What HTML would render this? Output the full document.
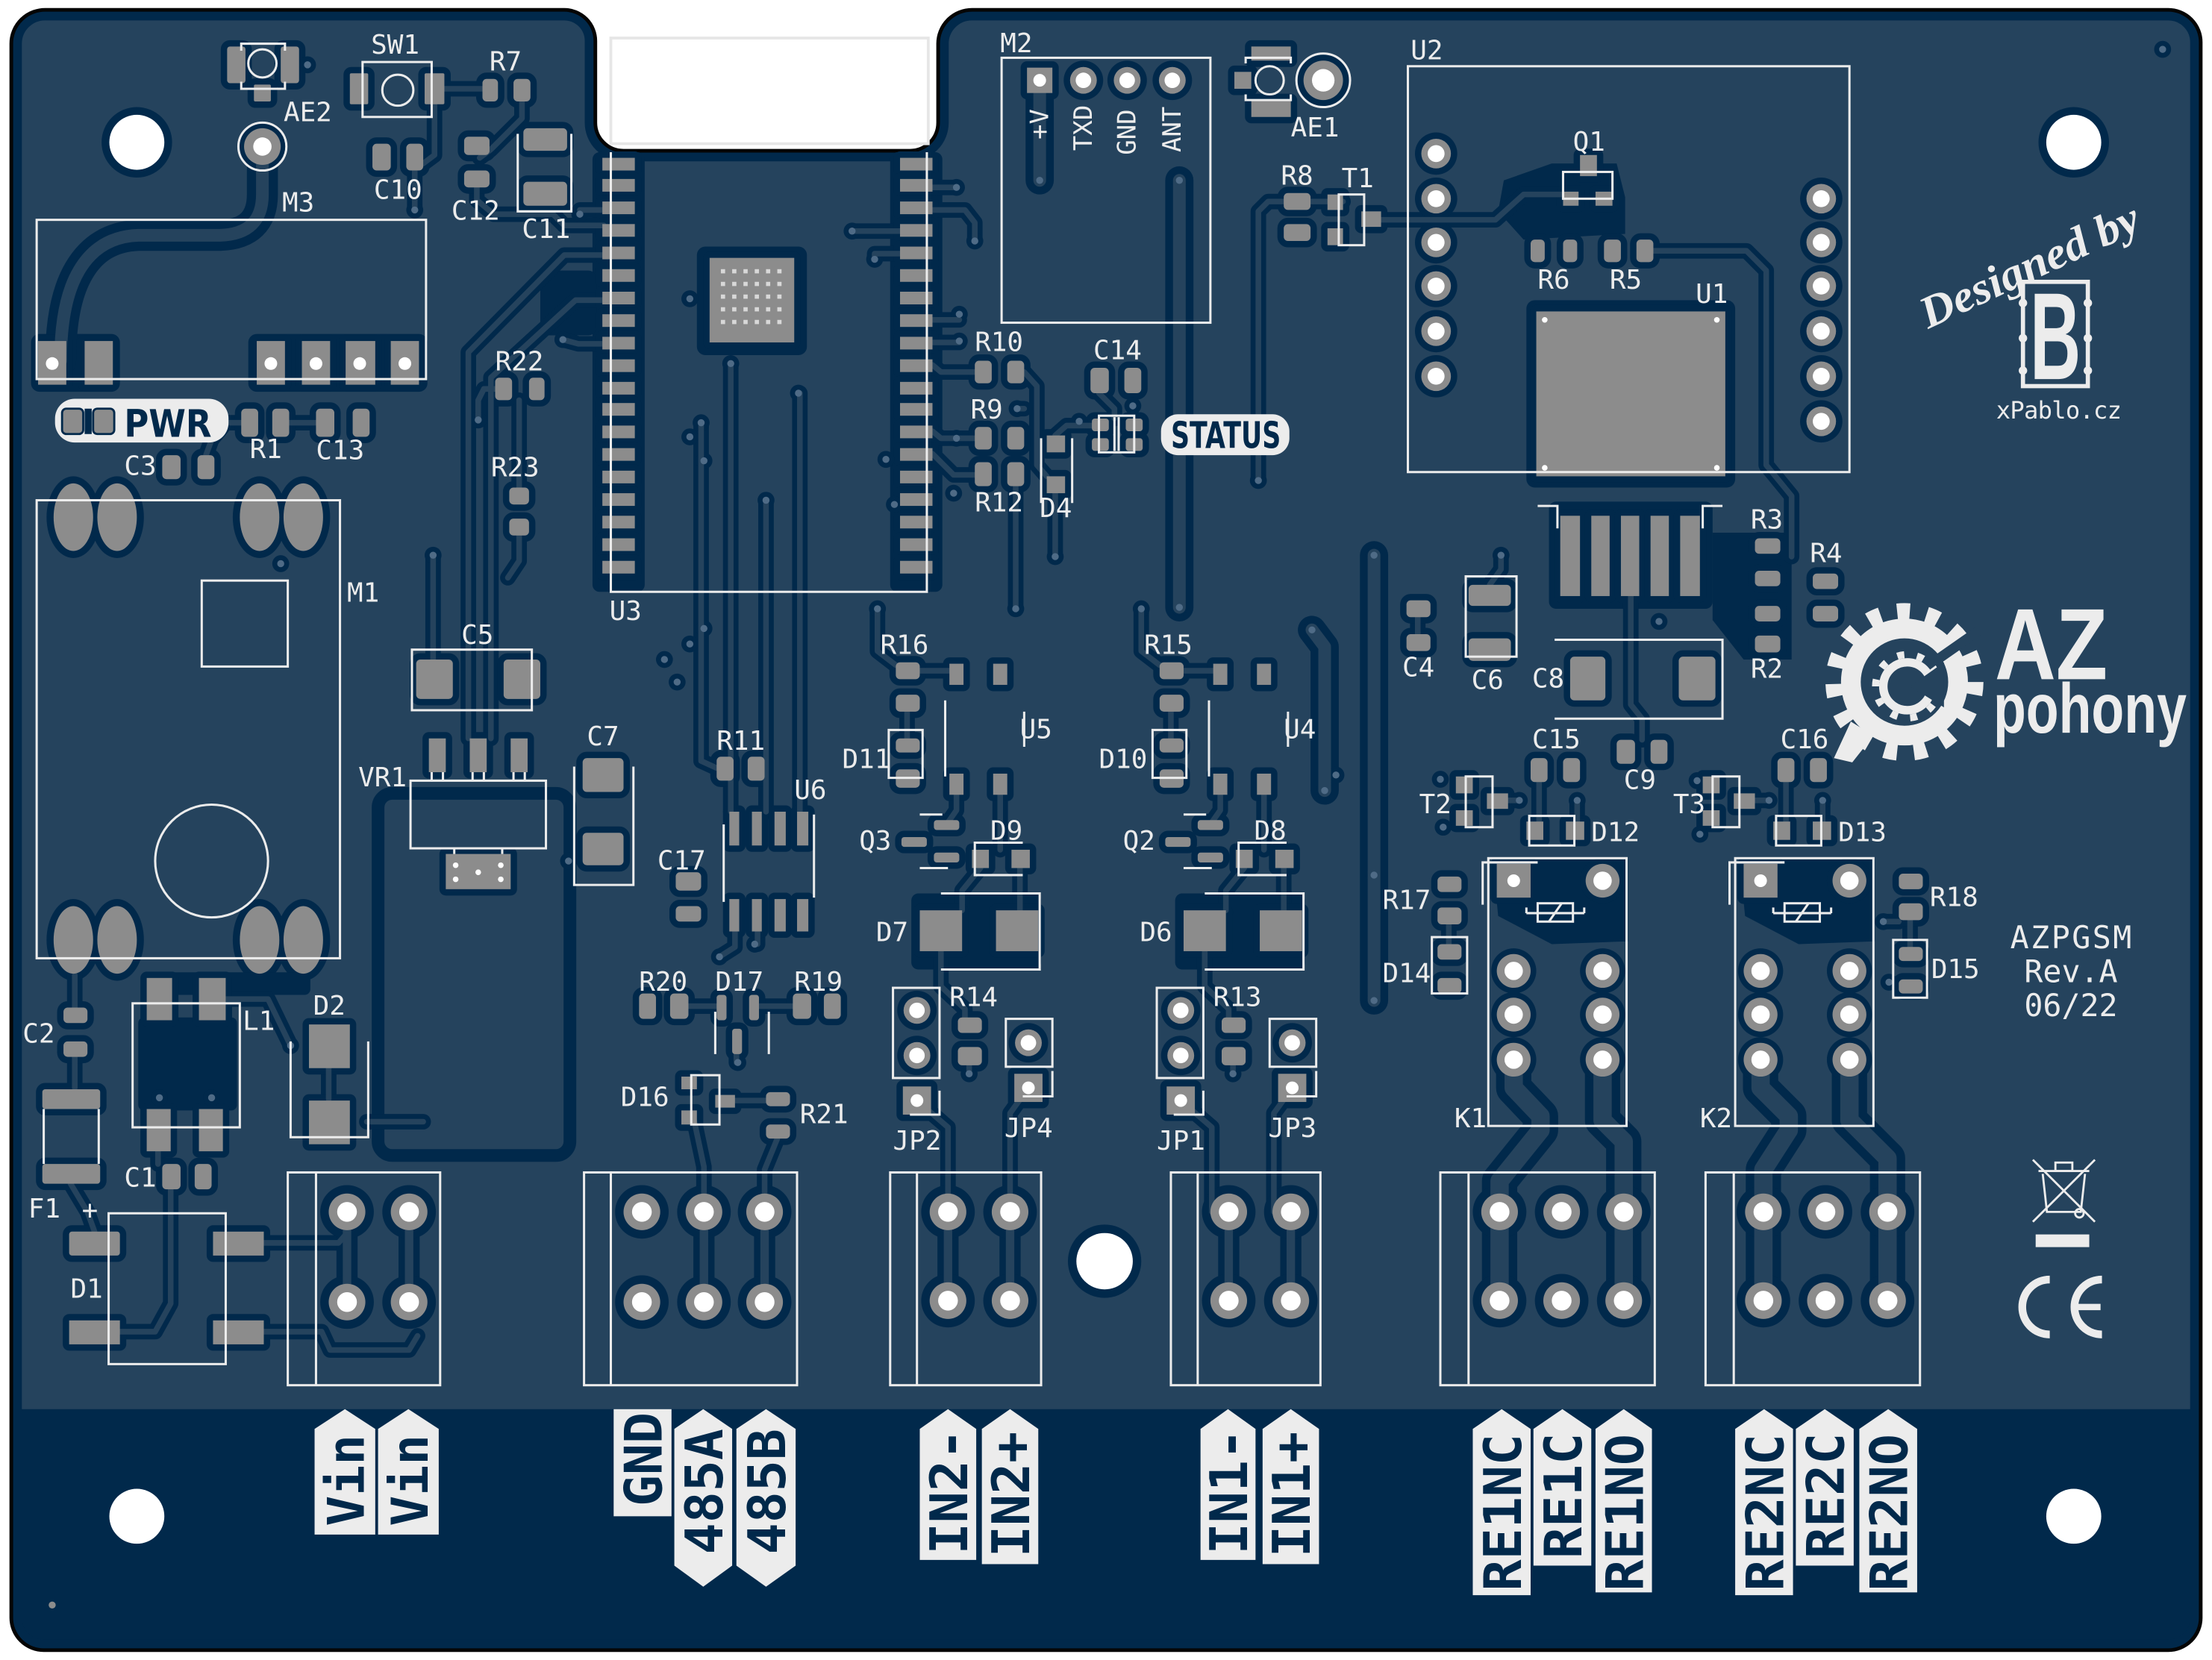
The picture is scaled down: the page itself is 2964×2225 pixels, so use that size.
<!DOCTYPE html>
<html><head><meta charset="utf-8">
<style>
html,body{margin:0;padding:0;background:#fff;width:2964px;height:2225px;overflow:hidden}
svg{display:block}
.sk{fill:none;stroke:#ececec;stroke-width:1.6}
.t{fill:#ececec;font-family:"DejaVu Sans Mono","Liberation Mono",monospace;font-size:19px}
.m{fill:#ececec;font-family:"DejaVu Sans Mono","Liberation Mono",monospace;font-size:18px}
.bl{fill:#01294b;font-family:"DejaVu Sans Mono","Liberation Mono",monospace;font-weight:bold;font-size:37px}
.lb{fill:#ececec}
</style></head><body>
<svg width="2964" height="2225" viewBox="0 0 1568 1178" preserveAspectRatio="none" xmlns="http://www.w3.org/2000/svg">
<defs>
<clipPath id="bc"><path d="M33,7 H400 A22,22 0 0 1 422,29 V87 A20,20 0 0 0 442,107 H645 A20,20 0 0 0 665,87 V31 A24,24 0 0 1 689,7 H1537 A23,23 0 0 1 1560,30 V1148 A23,23 0 0 1 1537,1171 H31 A23,23 0 0 1 8,1148 V31 A24,24 0 0 1 33,7 Z"/></clipPath>

<g id="thin">
<path d="M310,63 H342"/>
<path d="M308,74 V110 L300,116"/>
<path d="M294,121 V149"/>
<path d="M370,72 V84 L348,106 L340,112"/>
<path d="M338,133 V142 L350,152 H392 L400,160 H428"/>
<path d="M428,181 H400 L332,250 V524"/>
<path d="M428,213 H408 L348,268 V524"/>
<path d="M307,394 V470 L312,478"/>
<path d="M428,244 H410 L399,241"/>
<path d="M428,149 H411"/>
<path d="M351,276 H343 L339,284 V298"/>
<path d="M368,284 V346"/>
<path d="M368,380 V398 L360,410"/>
<path d="M205,300 H224"/>
<path d="M171,300 H160 L150,312 L146,323"/>
<path d="M518,258 V576"/>
<path d="M543,355 V576"/>
<path d="M567,279 V576"/>
<path d="M497,300 V540 L508,545"/>
<path d="M661,133 H678"/>
<path d="M661,149 H684 L691,158 V171"/>
<path d="M638,164 H604"/>
<path d="M638,180 H620 V184"/>
<path d="M661,227 H680"/>
<path d="M661,243 H680"/>
<path d="M661,259 L667,264 H691"/>
<path d="M661,306 L667,311 H691"/>
<path d="M661,322 L676,337 H691"/>
<path d="M726,264 L735,274 V330 L742,338"/>
<path d="M748,309 L756,302 H774"/>
<path d="M748,350 V395"/>
<path d="M720,337 V432"/>
<path d="M721,290 H726"/>
<path d="M779,279 L790,290 V297"/>
<path d="M910,143 H899 L892,150 V341"/>
<path d="M952,143 H929"/>
<path d="M979,156 H1060 L1080,138 H1108"/>
<path d="M1172,178 H1238 L1252,192 V330 L1270,352 V395"/>
<path d="M1156,423 V500 L1164,510 V525"/>
<path d="M1064,394 V404 L1056,415"/>
<path d="M1005,438 V450"/>
<path d="M1077,568 H1069"/>
<path d="M1091,555 V583"/>
<path d="M1118,568 V583"/>
<path d="M1266,555 V583"/>
<path d="M1292,568 V583"/>
<path d="M1027,656 V670"/>
<path d="M1354,653 V672"/>
<path d="M1335,654 H1346"/>
<path d="M1254,568 H1244"/>
<g id="in2t">
<path d="M622,432 V462 L635,472"/>
<path d="M652,476 H673"/>
<path d="M643,505 V524"/>
<path d="M678,564 V575 L671,585"/>
<path d="M709,564 V603"/>
<path d="M695,616 L682,632 V646"/>
<path d="M723,616 V646"/>
<path d="M667,675 V700 L684,716 V722"/>
<path d="M687,756 V762"/>
<path d="M650,781 L672,800 V860"/>
<path d="M729,772 L716,790 V860"/>
</g>
<use href="#in2t" x="187"/>
<path d="M492,795 L499,828 V860"/>
<path d="M551,808 L542,830 V860"/>
<path d="M521,661 V672 L510,679"/>
<path d="M537,661 V670"/>
<path d="M488,714 H508"/>
<path d="M538,714 H562"/>
<path d="M522,748 V754"/>
<path d="M521,781 H543"/>
<path d="M50,840 L62,860 L67,874"/>
<path d="M121,844 V925 L110,945 H85"/>
<path d="M187,882 H240 L246,875"/>
<path d="M187,945 H228 L234,958 H290 L296,948"/>
<path d="M53,715 V692"/>
<path d="M53,749 V772"/>
<path d="M160,709 H190 L206,742"/>
<path d="M233,758 V780"/>
<path d="M112,817 V826"/>
<path d="M260,796 H300"/>
</g>
<g id="med">
<path d="M246,860 V924"/><path d="M290,860 V924"/>
<path d="M499,860 V923"/><path d="M542,860 V923"/>
<path d="M672,860 V923"/><path d="M716,860 V923"/>
<path d="M871,860 V923"/><path d="M915,860 V923"/>
</g>
<g id="wide">
<path d="M737,57 V128"/>
<path d="M836,128 V431"/>
<path d="M974,394 V710"/>
<path d="M930,447 L939,459 V561"/>
</g>
<g id="rf">
<path d="M186,104 V138 Q186,166 156,167 H98 Q70,168 56,192 Q43,214 43,256"/>
</g>
<g id="rel">
<path d="M1136,752 V795 L1151,810 V923"/>
<path d="M1073,752 V772 L1092,792 V802 L1063,838 V923"/>
<path d="M1311,752 V795 L1338,822 V923"/>
<path d="M1248,752 V772 L1268,792 V802 L1250,830 V923"/>
</g>

<g id="pads">
<rect x="161" y="33" width="13" height="26" rx="2"/><rect x="199" y="33" width="13" height="26" rx="2"/><rect x="180" y="60" width="12" height="12" rx="1"/>
<rect x="248" y="52" width="13" height="22" rx="1"/><rect x="301" y="52" width="14" height="22" rx="1"/>
<rect x="342" y="56" width="11" height="16" rx="3"/><rect x="364" y="56" width="12" height="16" rx="3"/>
<rect x="264" y="102" width="13" height="19" rx="3"/><rect x="288" y="102" width="12" height="19" rx="3"/>
<rect x="329" y="97" width="18" height="13" rx="3"/><rect x="329" y="121" width="18" height="12" rx="3"/>
<rect x="371" y="91" width="31" height="16" rx="3"/><rect x="371" y="129" width="31" height="17" rx="3"/>
<rect x="171" y="290" width="12" height="20" rx="3"/><rect x="193" y="290" width="12" height="20" rx="3"/>
<rect x="224" y="290" width="13" height="20" rx="3"/><rect x="250" y="290" width="12" height="20" rx="3"/>
<rect x="115" y="323" width="13" height="17" rx="3"/><rect x="140" y="323" width="12" height="17" rx="3"/>
<rect x="351" y="268" width="12" height="16" rx="3"/><rect x="375" y="268" width="11" height="16" rx="3"/>
<rect x="361" y="346" width="14" height="12" rx="3"/><rect x="361" y="368" width="14" height="12" rx="3"/>
<rect x="295" y="468" width="26" height="28" rx="3"/><rect x="357" y="468" width="26" height="28" rx="3"/>
<rect x="304" y="524" width="12" height="24"/><rect x="333" y="524" width="12" height="24"/><rect x="362" y="524" width="12" height="24"/><rect x="316" y="606" width="46" height="25"/>
<rect x="413" y="538" width="29" height="24" rx="3"/><rect x="413" y="591" width="29" height="23" rx="3"/>
<rect x="104" y="694" width="18" height="30"/><rect x="141" y="694" width="19" height="30"/><rect x="104" y="787" width="17" height="30"/><rect x="141" y="787" width="17" height="30"/>
<rect x="45" y="715" width="17" height="11" rx="3"/><rect x="45" y="739" width="17" height="11" rx="3"/>
<rect x="219" y="727" width="29" height="31"/><rect x="219" y="781" width="29" height="31"/>
<rect x="30" y="773" width="41" height="14" rx="2"/><rect x="30" y="826" width="41" height="14" rx="2"/>
<rect x="115" y="826" width="13" height="18" rx="3"/><rect x="138" y="826" width="12" height="18" rx="3"/>
<rect x="49" y="874" width="36" height="17" rx="2"/><rect x="151" y="874" width="36" height="17"/><rect x="49" y="937" width="36" height="17"/><rect x="151" y="937" width="36" height="17"/>
<rect x="27" y="242" width="20" height="31"/><rect x="60" y="242" width="20" height="31"/><rect x="182" y="242" width="20" height="31"/><rect x="214" y="242" width="20" height="31"/><rect x="245" y="242" width="21" height="31"/><rect x="277" y="242" width="20" height="31"/>
<g id="u3l">
<rect x="427" y="112" width="23" height="9"/><rect x="427" y="127" width="23" height="9"/><rect x="427" y="143" width="23" height="9"/><rect x="427" y="159" width="23" height="9"/><rect x="427" y="175" width="23" height="9"/><rect x="427" y="191" width="23" height="9"/><rect x="427" y="207" width="23" height="9"/><rect x="427" y="223" width="23" height="9"/><rect x="427" y="239" width="23" height="9"/><rect x="427" y="255" width="23" height="9"/><rect x="427" y="271" width="23" height="9"/><rect x="427" y="286" width="23" height="9"/><rect x="427" y="302" width="23" height="9"/><rect x="427" y="318" width="23" height="9"/><rect x="427" y="334" width="23" height="9"/><rect x="427" y="350" width="23" height="9"/><rect x="427" y="366" width="23" height="9"/><rect x="427" y="382" width="23" height="9"/><rect x="427" y="398" width="23" height="9"/>
</g>
<use href="#u3l" x="211"/>
<rect x="503" y="183" width="60" height="60"/>
<rect x="691" y="256" width="12" height="16" rx="3"/><rect x="714" y="256" width="12" height="16" rx="3"/>
<rect x="691" y="303" width="12" height="16" rx="3"/><rect x="714" y="303" width="12" height="16" rx="3"/>
<rect x="691" y="328" width="12" height="17" rx="3"/><rect x="714" y="328" width="12" height="17" rx="3"/>
<rect x="742" y="309" width="13" height="12"/><rect x="742" y="338" width="13" height="12"/>
<rect x="773" y="261" width="13" height="18" rx="3"/><rect x="797" y="261" width="12" height="18" rx="3"/>
<rect x="774" y="297" width="12" height="9" rx="2"/><rect x="774" y="311" width="12" height="9" rx="2"/><rect x="798" y="297" width="12" height="9" rx="2"/><rect x="798" y="311" width="12" height="9" rx="2"/>
<rect x="887" y="33" width="28" height="10"/><rect x="887" y="71" width="28" height="12"/><rect x="875" y="51" width="12" height="12"/>
<rect x="910" y="137" width="19" height="12" rx="3"/><rect x="910" y="159" width="19" height="12" rx="3"/>
<rect x="941" y="138" width="11" height="11"/><rect x="941" y="162" width="11" height="12"/><rect x="965" y="150" width="14" height="11"/>
<rect x="1120" y="110" width="12" height="15"/><rect x="1108" y="136" width="11" height="10"/><rect x="1131" y="136" width="12" height="10"/>
<rect x="1085" y="170" width="10" height="16" rx="3"/><rect x="1108" y="170" width="10" height="16" rx="3"/>
<rect x="1137" y="170" width="12" height="16" rx="3"/><rect x="1160" y="170" width="12" height="16" rx="3"/>
<rect x="1089" y="221" width="134" height="117"/>
<rect x="1106" y="366" width="14" height="57"/><rect x="1128" y="366" width="13" height="57"/><rect x="1149" y="366" width="13" height="57"/><rect x="1170" y="366" width="13" height="57"/><rect x="1191" y="366" width="14" height="57"/>
<rect x="1244" y="382" width="18" height="11" rx="3"/><rect x="1244" y="405" width="18" height="11" rx="3"/>
<rect x="1244" y="430" width="18" height="11" rx="3"/><rect x="1244" y="451" width="18" height="12" rx="3"/>
<rect x="1285" y="407" width="18" height="11" rx="3"/><rect x="1285" y="430" width="18" height="11" rx="3"/>
<rect x="997" y="426" width="17" height="12" rx="3"/><rect x="997" y="450" width="17" height="12" rx="3"/>
<rect x="1041" y="415" width="30" height="15" rx="3"/><rect x="1041" y="453" width="30" height="16" rx="3"/>
<rect x="1113" y="466" width="25" height="31" rx="3"/><rect x="1190" y="466" width="26" height="31" rx="3"/>
<rect x="1146" y="525" width="13" height="17" rx="3"/><rect x="1170" y="525" width="12" height="17" rx="3"/>
<rect x="1085" y="538" width="12" height="17" rx="3"/><rect x="1108" y="538" width="12" height="17" rx="3"/>
<rect x="1260" y="538" width="12" height="17" rx="3"/><rect x="1283" y="538" width="12" height="17" rx="3"/>
<rect x="1032" y="551" width="12" height="12"/><rect x="1032" y="575" width="12" height="11"/><rect x="1054" y="563" width="15" height="11"/>
<rect x="1207" y="551" width="12" height="12"/><rect x="1207" y="575" width="12" height="11"/><rect x="1229" y="563" width="15" height="11"/>
<rect x="1082" y="583" width="12" height="13"/><rect x="1110" y="583" width="13" height="13"/>
<rect x="1257" y="583" width="12" height="13"/><rect x="1285" y="583" width="13" height="13"/>
<rect x="1019" y="622" width="17" height="11" rx="3"/><rect x="1019" y="644" width="17" height="12" rx="3"/>
<rect x="1019" y="670" width="17" height="11" rx="3"/><rect x="1019" y="694" width="17" height="11" rx="3"/>
<rect x="1346" y="620" width="17" height="11" rx="3"/><rect x="1346" y="641" width="17" height="12" rx="3"/>
<rect x="1346" y="672" width="17" height="10" rx="3"/><rect x="1346" y="695" width="17" height="10" rx="3"/>
<g id="in2p">
<rect x="635" y="470" width="17" height="12" rx="3"/><rect x="635" y="493" width="17" height="12" rx="3"/>
<rect x="673" y="471" width="10" height="15"/><rect x="704" y="471" width="10" height="15"/><rect x="673" y="549" width="10" height="15"/><rect x="704" y="549" width="10" height="15"/>
<rect x="635" y="524" width="17" height="10" rx="3"/><rect x="635" y="546" width="17" height="13" rx="3"/>
<rect x="662" y="582" width="18" height="7" rx="2"/><rect x="662" y="605" width="18" height="7" rx="2"/><rect x="639" y="594" width="18" height="7" rx="2"/>
<rect x="689" y="603" width="12" height="13"/><rect x="717" y="603" width="13" height="13"/>
<rect x="652" y="646" width="30" height="29"/><rect x="706" y="646" width="30" height="29"/>
<rect x="679" y="722" width="17" height="11" rx="3"/><rect x="679" y="743" width="17" height="13" rx="3"/>
<rect x="640" y="771" width="20" height="20"/><rect x="719" y="762" width="20" height="20"/>
</g>
<use href="#in2p" x="187"/>
<rect x="517" y="576" width="7" height="24"/><rect x="533" y="576" width="7" height="24"/><rect x="549" y="576" width="8" height="24"/><rect x="565" y="576" width="8" height="24"/>
<rect x="517" y="638" width="7" height="23"/><rect x="533" y="638" width="7" height="23"/><rect x="549" y="638" width="8" height="23"/><rect x="565" y="638" width="8" height="23"/>
<rect x="508" y="537" width="12" height="17" rx="3"/><rect x="530" y="537" width="12" height="17" rx="3"/>
<rect x="479" y="619" width="18" height="13" rx="3"/><rect x="479" y="643" width="18" height="11" rx="3"/>
<rect x="453" y="705" width="12" height="18" rx="3"/><rect x="475" y="705" width="13" height="18" rx="3"/>
<rect x="508" y="706" width="7" height="18" rx="2"/><rect x="531" y="706" width="7" height="18" rx="2"/><rect x="519" y="730" width="7" height="18" rx="2"/>
<rect x="562" y="705" width="13" height="18" rx="3"/><rect x="584" y="705" width="12" height="18" rx="3"/>
<rect x="483" y="764" width="11" height="9"/><rect x="483" y="788" width="11" height="10"/><rect x="507" y="777" width="14" height="9"/>
<rect x="543" y="775" width="17" height="10" rx="3"/><rect x="543" y="798" width="17" height="10" rx="3"/>
<rect x="1061" y="613" width="24" height="24"/><rect x="1236" y="613" width="24" height="24"/>
<rect x="728" y="48" width="18" height="18"/>
</g>

<!-- THT position paths (zero-length round-cap dots) -->
<path id="tp" d="M246,860h0M290,860h0M246,924h0M290,924h0M455,860h0M499,860h0M542,860h0M455,924h0M499,924h0M542,924h0M672,860h0M716,860h0M672,923h0M716,923h0M871,860h0M915,860h0M871,923h0M915,923h0M1063,860h0M1107,860h0M1151,860h0M1063,923h0M1107,923h0M1151,923h0M1250,860h0M1294,860h0M1338,860h0M1250,923h0M1294,923h0M1338,923h0"/>
<path id="rp" d="M1136,625h0M1073,689h0M1136,689h0M1073,720h0M1136,720h0M1073,752h0M1136,752h0M1311,625h0M1248,689h0M1311,689h0M1248,720h0M1311,720h0M1248,752h0M1311,752h0"/>
<path id="up" d="M1018,109h0M1018,141h0M1018,172h0M1018,203h0M1018,235h0M1018,267h0M1291,141h0M1291,172h0M1291,203h0M1291,235h0M1291,267h0M1291,299h0"/>
<path id="jp" d="M650,717h0M650,749h0M729,740h0M837,717h0M837,749h0M916,740h0M768,57h0M799,57h0M831,57h0"/>
<path id="holesq" d="M650,781h0M729,772h0M837,781h0M916,772h0M1073,625h0M1248,625h0M737,57h0M37,258h0M192,258h0M224,258h0M255,258h0M287,258h0"/>
<path id="vias" d="M294,149h0M411,152h0M399,241h0M339,298h0M678,133h0M691,171h0M604,164h0M620,184h0M680,223h0M680,242h0M566,279h0M518,258h0M543,355h0M497,300h0M720,432h0M748,395h0M622,432h0M809,432h0M836,431h0M737,128h0M836,128h0M892,341h0M974,394h0M974,710h0M974,621h0M1064,394h0M930,447h0M939,561h0M947,550h0M1176,441h0M1021,553h0M1077,568h0M1118,568h0M1203,554h0M1254,568h0M1292,568h0M1205,592h0M1023,587h0M1335,654h0M1339,697h0M471,468h0M480,484h0M489,457h0M499,446h0M510,679h0M535,670h0M523,754h0M687,762h0M874,762h0M307,394h0M199,400h0M403,611h0M206,742h0M113,779h0M150,779h0M489,212h0M489,310h0M499,327h0M218,46h0M1533,35h0M721,290h0M678,311h0M628,326h0M676,350h0M634,358h0M765,299h0M803,288h0"/>
</defs>

<!-- board -->
<g clip-path="url(#bc)">
<rect x="0" y="0" width="1568" height="1178" fill="#25435d"/>
<rect x="0" y="1000" width="1568" height="178" fill="#01294b"/>
<path d="M33,7 H400 A22,22 0 0 1 422,29 V87 A20,20 0 0 0 442,107 H645 A20,20 0 0 0 665,87 V31 A24,24 0 0 1 689,7 H1537 A23,23 0 0 1 1560,30 V1148 A23,23 0 0 1 1537,1171 H31 A23,23 0 0 1 8,1148 V31 A24,24 0 0 1 33,7 Z" fill="none" stroke="#01294b" stroke-width="15"/>
</g>
<path d="M33,7 H400 A22,22 0 0 1 422,29 V87 A20,20 0 0 0 442,107 H645 A20,20 0 0 0 665,87 V31 A24,24 0 0 1 689,7 H1537 A23,23 0 0 1 1560,30 V1148 A23,23 0 0 1 1537,1171 H31 A23,23 0 0 1 8,1148 V31 A24,24 0 0 1 33,7 Z" fill="none" stroke="#050505" stroke-width="2.6"/>
<rect x="433" y="27" width="225" height="75" fill="none" stroke="#e6e6e6" stroke-width="2"/>

<!-- dark copper-free zones -->
<g fill="#01294b">
<rect x="420" y="108" width="37" height="312" rx="5"/>
<rect x="631" y="108" width="37" height="312" rx="5"/>
<rect x="494" y="175" width="78" height="77" rx="6"/>
<rect x="383" y="192" width="40" height="46" rx="6"/>
<polygon points="1062,150 1066,128 1100,116 1146,116 1152,140 1152,166 1080,170"/>
<rect x="1082" y="213" width="148" height="133" rx="6"/>
<rect x="1098" y="356" width="116" height="76" rx="5"/>
<polygon points="1214,378 1270,378 1270,468 1236,468 1214,440"/>
<polygon points="1058,610 1154,610 1154,668 1100,670 1062,650"/>
<polygon points="1233,610 1329,610 1329,668 1275,670 1237,650"/>
<rect x="646" y="634" width="92" height="54" rx="5"/>
<rect x="833" y="634" width="92" height="54" rx="5"/>
<rect x="98" y="722" width="70" height="66" rx="4"/>
<rect x="22" y="237" width="63" height="41" rx="6"/>
<rect x="176" y="237" width="127" height="41" rx="6"/>
<ellipse cx="52" cy="367" rx="19" ry="29"/><ellipse cx="83" cy="367" rx="19" ry="29"/><ellipse cx="184" cy="367" rx="19" ry="29"/><ellipse cx="215" cy="367" rx="19" ry="29"/>
<ellipse cx="52" cy="667" rx="19" ry="29"/><ellipse cx="83" cy="667" rx="19" ry="29"/><ellipse cx="184" cy="667" rx="19" ry="29"/><ellipse cx="215" cy="667" rx="19" ry="29"/>
<rect x="100" y="690" width="120" height="16" rx="4"/>
</g>
<rect x="268" y="563" width="136" height="257" rx="10" fill="none" stroke="#01294b" stroke-width="9"/>

<!-- dark trace gaps -->
<use href="#thin" fill="none" stroke="#01294b" stroke-width="11" stroke-linecap="round" stroke-linejoin="round"/>
<use href="#med" fill="none" stroke="#01294b" stroke-width="15" stroke-linecap="round" stroke-linejoin="round"/>
<use href="#wide" fill="none" stroke="#01294b" stroke-width="20" stroke-linecap="round" stroke-linejoin="round"/>
<use href="#rf" fill="none" stroke="#01294b" stroke-width="22" stroke-linecap="round" stroke-linejoin="round"/>
<use href="#rel" fill="none" stroke="#01294b" stroke-width="25" stroke-linecap="round" stroke-linejoin="round"/>
<use href="#pads" fill="#01294b" stroke="#01294b" stroke-width="9" stroke-linejoin="round"/>
<use href="#tp" fill="none" stroke="#01294b" stroke-width="38" stroke-linecap="round"/>
<use href="#rp" fill="none" stroke="#01294b" stroke-width="32" stroke-linecap="round"/>
<use href="#up" fill="none" stroke="#01294b" stroke-width="30" stroke-linecap="round"/>
<use href="#jp" fill="none" stroke="#01294b" stroke-width="28" stroke-linecap="round"/>
<use href="#vias" fill="none" stroke="#01294b" stroke-width="12" stroke-linecap="round"/>
<circle cx="186" cy="104" r="17" fill="#01294b"/>
<circle cx="938" cy="57" r="19" fill="#01294b"/>
<circle cx="97" cy="101" r="25" fill="#01294b"/>
<circle cx="1470" cy="101" r="25" fill="#01294b"/>
<circle cx="783" cy="895" r="26" fill="#01294b"/>

<!-- copper (light) trace centers -->
<use href="#thin" fill="none" stroke="#25435d" stroke-width="4" stroke-linecap="round" stroke-linejoin="round"/>
<use href="#med" fill="none" stroke="#25435d" stroke-width="6" stroke-linecap="round" stroke-linejoin="round"/>
<use href="#wide" fill="none" stroke="#25435d" stroke-width="9" stroke-linecap="round" stroke-linejoin="round"/>
<use href="#rf" fill="none" stroke="#25435d" stroke-width="9" stroke-linecap="round" stroke-linejoin="round"/>
<use href="#rel" fill="none" stroke="#25435d" stroke-width="13" stroke-linecap="round" stroke-linejoin="round"/>

<!-- pads -->
<use href="#pads" fill="#8c8c8c"/>
<g fill="#8c8c8c">
<ellipse cx="52" cy="367" rx="14" ry="24"/><ellipse cx="83" cy="367" rx="14" ry="24"/><ellipse cx="184" cy="367" rx="14" ry="24"/><ellipse cx="215" cy="367" rx="14" ry="24"/>
<ellipse cx="52" cy="667" rx="14" ry="24"/><ellipse cx="83" cy="667" rx="14" ry="24"/><ellipse cx="184" cy="667" rx="14" ry="24"/><ellipse cx="215" cy="667" rx="14" ry="24"/>
<circle cx="186" cy="104" r="13"/><circle cx="938" cy="57" r="14"/>
</g>
<use href="#tp" fill="none" stroke="#8c8c8c" stroke-width="26" stroke-linecap="round"/>
<use href="#rp" fill="none" stroke="#8c8c8c" stroke-width="24" stroke-linecap="round"/>
<use href="#up" fill="none" stroke="#8c8c8c" stroke-width="21" stroke-linecap="round"/>
<use href="#jp" fill="none" stroke="#8c8c8c" stroke-width="19" stroke-linecap="round"/>
<use href="#vias" fill="none" stroke="#4f6b86" stroke-width="5" stroke-linecap="round"/>
<!-- holes -->
<use href="#tp" fill="none" stroke="#fff" stroke-width="14" stroke-linecap="round"/>
<use href="#rp" fill="none" stroke="#fff" stroke-width="13" stroke-linecap="round"/>
<use href="#up" fill="none" stroke="#fff" stroke-width="12" stroke-linecap="round"/>
<use href="#jp" fill="none" stroke="#fff" stroke-width="11" stroke-linecap="round"/>
<use href="#holesq" fill="none" stroke="#fff" stroke-width="9" stroke-linecap="round"/>
<g fill="#fff">
<circle cx="186" cy="104" r="6.5"/><circle cx="938" cy="57" r="8"/>
<circle cx="97" cy="101" r="19.5"/><circle cx="1470" cy="101" r="19.5"/><circle cx="783" cy="895" r="20"/>
<circle cx="97" cy="1076" r="19.5"/><circle cx="1470" cy="1076" r="19.5"/>
<circle cx="1095" cy="227" r="2"/><circle cx="1217" cy="227" r="2"/><circle cx="1095" cy="332" r="2"/><circle cx="1217" cy="332" r="2"/>
<circle cx="323" cy="614" r="2"/><circle cx="355" cy="614" r="2"/><circle cx="339" cy="619" r="2"/><circle cx="323" cy="624" r="2"/><circle cx="355" cy="624" r="2"/>
</g>
<g fill="#d8d8d8">
<rect x="511" y="191" width="3" height="3"/><rect x="519" y="191" width="3" height="3"/><rect x="527" y="191" width="3" height="3"/><rect x="535" y="191" width="3" height="3"/><rect x="543" y="191" width="3" height="3"/><rect x="551" y="191" width="3" height="3"/>
<rect x="511" y="200" width="3" height="3"/><rect x="519" y="200" width="3" height="3"/><rect x="527" y="200" width="3" height="3"/><rect x="535" y="200" width="3" height="3"/><rect x="543" y="200" width="3" height="3"/><rect x="551" y="200" width="3" height="3"/>
<rect x="511" y="209" width="3" height="3"/><rect x="519" y="209" width="3" height="3"/><rect x="527" y="209" width="3" height="3"/><rect x="535" y="209" width="3" height="3"/><rect x="543" y="209" width="3" height="3"/><rect x="551" y="209" width="3" height="3"/>
<rect x="511" y="218" width="3" height="3"/><rect x="519" y="218" width="3" height="3"/><rect x="527" y="218" width="3" height="3"/><rect x="535" y="218" width="3" height="3"/><rect x="543" y="218" width="3" height="3"/><rect x="551" y="218" width="3" height="3"/>
<rect x="511" y="227" width="3" height="3"/><rect x="519" y="227" width="3" height="3"/><rect x="527" y="227" width="3" height="3"/><rect x="535" y="227" width="3" height="3"/><rect x="543" y="227" width="3" height="3"/><rect x="551" y="227" width="3" height="3"/>
</g>
<circle cx="37" cy="1139" r="2.5" fill="#8c8c8c"/>

<!-- silkscreen outlines -->
<g class="sk">
<rect x="26" y="156" width="276" height="113"/>
<path d="M171,36 V31 H202 V36 M171,58 V63 H202 V58"/><circle cx="186" cy="45" r="10"/>
<circle cx="186" cy="104" r="17"/>
<rect x="257" y="44" width="49" height="39"/><circle cx="282" cy="64" r="11"/>
<path d="M367,95 V150 H405 V95"/>
<rect x="26" y="355" width="215" height="325"/>
<rect x="143" y="412" width="61" height="61"/>
<circle cx="150" cy="611" r="40"/>
<rect x="292" y="461" width="85" height="43"/>
<rect x="291" y="554" width="96" height="48"/>
<path d="M306,548 V554 M314,548 V554 M335,548 V554 M343,548 V554 M364,548 V554 M372,548 V554 M322,602 V606 M356,602 V606"/>
<path d="M407,544 V628 H449 V544"/>
<rect x="94" y="712" width="76" height="88"/>
<path d="M206,739 V807 H261 V739"/>
<path d="M31,787 V826 M70,787 V826"/>
<rect x="77" y="861" width="83" height="107"/>
<path d="M433,108 V420 H657 V108"/>
<rect x="710" y="41" width="148" height="188"/>
<path d="M883,45 V41 H915 V45 M883,67 V71 H915 V67"/><circle cx="900" cy="57" r="10"/>
<circle cx="938" cy="57" r="19"/>
<rect x="949" y="138" width="18" height="36"/>
<rect x="998" y="47" width="313" height="288"/>
<rect x="1108" y="122" width="35" height="19"/>
<path d="M1090,359 H1104 V375 M1221,359 H1207 V375"/>
<rect x="779" y="295" width="25" height="26"/><path d="M790,296 V320 M793,296 V320"/>
<path d="M738,311 V357 M760,311 V357"/>
<rect x="1039" y="409" width="36" height="57"/>
<path d="M1102,454 H1221 V510 H1102"/>
<rect x="1039" y="551" width="19" height="36"/>
<rect x="1214" y="551" width="19" height="36"/>
<rect x="1084" y="579" width="32" height="21"/>
<rect x="1259" y="579" width="32" height="21"/>
<rect x="1015" y="665" width="25" height="40"/>
<rect x="1342" y="667" width="24" height="41"/>
<rect x="1055" y="609" width="98" height="190"/><path d="M1051,642 V612 H1090"/>
<rect x="1230" y="609" width="98" height="190"/><path d="M1226,642 V612 H1265"/>
<path d="M1082,648 V644 M1082,648 H1123 M1123,648 V644"/><rect x="1090" y="641" width="25" height="13"/><path d="M1098,654 L1107,641"/>
<path d="M1257,648 V644 M1257,648 H1298 M1298,648 V644"/><rect x="1265" y="641" width="25" height="13"/><path d="M1273,654 L1282,641"/>
<path d="M513,585 V640 M577,578 V637"/>
<path d="M507,718 V748 M545,718 V748"/>
<rect x="490" y="763" width="20" height="35"/>
<g id="in2s">
<path d="M670,497 V551 M726,505 V530"/>
<rect x="630" y="518" width="24" height="34"/>
<path d="M652,578 H668 M652,616 H672"/>
<path d="M725,598 H691 V621 H725"/>
<path d="M667,634 H737 V688 H667"/>
<rect x="633" y="701" width="33" height="64"/>
<path d="M666,774 V791 H645"/>
<rect x="713" y="723" width="33" height="34"/>
<path d="M746,760 V778 H725"/>
</g>
<use href="#in2s" x="187"/>
<rect x="204" y="832" width="108" height="151"/><path d="M224,832 V983"/>
<rect x="414" y="832" width="151" height="151"/><path d="M433,832 V983"/>
<rect x="631" y="832" width="107" height="151"/><path d="M650,832 V983"/>
<rect x="830" y="832" width="106" height="151"/><path d="M849,832 V983"/>
<rect x="1021" y="832" width="152" height="151"/><path d="M1041,832 V983"/>
<rect x="1209" y="832" width="152" height="151"/><path d="M1229,832 V983"/>
</g>

<!-- PWR label -->
<rect x="39" y="283" width="123" height="31" rx="14" fill="#ececec"/>
<rect x="44" y="290" width="15" height="18" rx="3" fill="#8c8c8c" stroke="#01294b" stroke-width="1.5"/>
<rect x="66" y="290" width="15" height="18" rx="3" fill="#8c8c8c" stroke="#01294b" stroke-width="1.5"/>
<rect x="60" y="290" width="5" height="18" fill="#01294b"/>
<text x="88" y="310" fill="#01294b" font-family="DejaVu Sans, Liberation Sans, sans-serif" font-weight="bold" font-size="27" textLength="62" lengthAdjust="spacingAndGlyphs">PWR</text>
<!-- STATUS label -->
<rect x="823" y="294" width="91" height="29" rx="12" fill="#ececec"/>
<text x="830" y="318" fill="#01294b" font-family="DejaVu Sans, Liberation Sans, sans-serif" font-weight="bold" font-size="26" textLength="78" lengthAdjust="spacingAndGlyphs">STATUS</text>

<!-- silk text -->
<g class="t">
<text x="201" y="86">AE2</text><text x="263" y="38">SW1</text><text x="347" y="50">R7</text>
<text x="265" y="141">C10</text><text x="320" y="156">C12</text><text x="370" y="169">C11</text>
<text x="200" y="150">M3</text><text x="177" y="325">R1</text><text x="224" y="326">C13</text><text x="88" y="337">C3</text>
<text x="351" y="263">R22</text><text x="348" y="338">R23</text><text x="246" y="427">M1</text><text x="327" y="457">C5</text>
<text x="254" y="558">VR1</text><text x="416" y="529">C7</text><text x="172" y="731">L1</text><text x="16" y="740">C2</text>
<text x="222" y="720">D2</text><text x="88" y="842">C1</text><text x="20" y="864">F1</text><text x="58" y="865">+</text><text x="50" y="921">D1</text>
<text x="432" y="440">U3</text><text x="709" y="37">M2</text><text x="915" y="97">AE1</text><text x="908" y="131">R8</text><text x="951" y="133">T1</text>
<text x="1000" y="42">U2</text><text x="1115" y="107">Q1</text><text x="1090" y="205">R6</text><text x="1141" y="205">R5</text><text x="1202" y="215">U1</text>
<text x="691" y="249">R10</text><text x="775" y="255">C14</text><text x="688" y="297">R9</text><text x="691" y="363">R12</text><text x="737" y="367">D4</text>
<text x="1241" y="375">R3</text><text x="1283" y="399">R4</text><text x="1241" y="481">R2</text>
<text x="994" y="480">C4</text><text x="1043" y="489">C6</text><text x="1086" y="488">C8</text>
<text x="1086" y="531">C15</text><text x="1262" y="531">C16</text><text x="1151" y="560">C9</text>
<text x="1006" y="577">T2</text><text x="1186" y="577">T3</text><text x="1128" y="597">D12</text><text x="1303" y="597">D13</text>
<text x="980" y="645">R17</text><text x="980" y="697">D14</text><text x="1368" y="643">R18</text><text x="1369" y="694">D15</text>
<text x="1031" y="800">K1</text><text x="1205" y="800">K2</text>
<text x="624" y="464">R16</text><text x="811" y="464">R15</text><text x="723" y="524">U5</text><text x="910" y="524">U4</text>
<text x="597" y="545">D11</text><text x="779" y="545">D10</text><text x="609" y="603">Q3</text><text x="796" y="603">Q2</text>
<text x="702" y="596">D9</text><text x="889" y="596">D8</text><text x="621" y="668">D7</text><text x="808" y="668">D6</text>
<text x="673" y="714">R14</text><text x="860" y="714">R13</text><text x="633" y="816">JP2</text><text x="820" y="816">JP1</text>
<text x="712" y="807">JP4</text><text x="899" y="807">JP3</text>
<text x="508" y="532">R11</text><text x="563" y="567">U6</text><text x="466" y="617">C17</text>
<text x="453" y="703">R20</text><text x="507" y="703">D17</text><text x="563" y="703">R19</text>
<text x="440" y="785">D16</text><text x="567" y="797">R21</text>
<text x="1415" y="297" font-size="17" textLength="89">xPablo.cz</text>
</g>
<g class="m">
<text transform="translate(743,99) rotate(-90)">+V</text>
<text transform="translate(774,107) rotate(-90)">TXD</text>
<text transform="translate(805,110) rotate(-90)">GND</text>
<text transform="translate(837,108) rotate(-90)">ANT</text>
</g>
<g class="t" font-size="22">
<text x="1468" y="673" text-anchor="middle" font-size="22" textLength="86">AZPGSM</text>
<text x="1468" y="697" text-anchor="middle" font-size="22">Rev.A</text>
<text x="1468" y="721" text-anchor="middle" font-size="22">06/22</text>
</g>

<!-- Designed by / B logo -->
<text transform="translate(1443,198) rotate(-25)" text-anchor="middle" fill="#ececec" font-family="Liberation Serif, serif" font-style="italic" font-weight="bold" font-size="32" textLength="168" lengthAdjust="spacingAndGlyphs">Designed by</text>
<rect x="1434" y="200" width="46" height="74" fill="none" stroke="#ececec" stroke-width="3"/>
<g fill="#ececec"><circle cx="1434" cy="215" r="3"/><circle cx="1434" cy="240" r="3"/><circle cx="1434" cy="263" r="3"/><circle cx="1480" cy="215" r="3"/><circle cx="1480" cy="240" r="3"/><circle cx="1480" cy="263" r="3"/></g>
<text x="1439" y="269" fill="#ececec" font-family="Liberation Sans, sans-serif" font-weight="bold" font-size="88" textLength="36" lengthAdjust="spacingAndGlyphs">B</text>

<!-- AZ pohony logo -->
<circle cx="1350" cy="484" r="38" fill="none" stroke="#ececec" stroke-width="14"/>
<circle cx="1350" cy="484" r="50" fill="none" stroke="#ececec" stroke-width="12" stroke-dasharray="9 11.94"/>
<path d="M1372,469 L1402,448" stroke="#25435d" stroke-width="7"/>
<circle cx="1352" cy="487" r="17" fill="none" stroke="#ececec" stroke-width="6"/>
<circle cx="1352" cy="487" r="22.5" fill="none" stroke="#ececec" stroke-width="5" stroke-dasharray="5 9.1"/>
<polygon points="1354,487 1378,470 1378,502" fill="#25435d"/>
<polygon points="1312,512 1328,522 1313,541 1300,538" fill="#ececec"/>
<text x="1414" y="482" fill="#ececec" font-family="Liberation Sans, sans-serif" font-weight="bold" font-size="72" textLength="80" lengthAdjust="spacingAndGlyphs">AZ</text>
<text x="1413" y="520" fill="#ececec" font-family="Liberation Sans, sans-serif" font-weight="bold" font-size="50" textLength="137" lengthAdjust="spacingAndGlyphs">pohony</text>

<!-- WEEE & CE -->
<g fill="none" stroke="#ececec" stroke-width="1.5">
<path d="M1441,823 L1485,867 M1485,823 L1441,867"/>
<path d="M1445,831 H1481 M1448,833 L1451,860 H1475 L1478,833"/>
<rect x="1457" y="825" width="12" height="6"/>
<circle cx="1474" cy="861" r="3"/>
</g>
<rect x="1443" y="876" width="38" height="9" fill="#ececec"/>
<path d="M1453,908 A19.5,19.5 0 0 0 1453,947" fill="none" stroke="#ececec" stroke-width="5.5"/>
<path d="M1490,908 A19.5,19.5 0 0 0 1490,947" fill="none" stroke="#ececec" stroke-width="5.5"/>
<path d="M1473,927.5 H1489" stroke="#ececec" stroke-width="4.5"/>

<!-- bottom labels -->
<g class="lb">
<path d="M223,1014 L244.5,1000 L266,1014 V1089 H223 Z"/>
<path d="M268,1014 L289.5,1000 L311,1014 V1089 H268 Z"/>
<rect x="435" y="1000" width="41" height="76"/>
<path d="M478,1014 L498.5,1000 L519,1014 V1111 L498.5,1126 L478,1111 Z"/>
<path d="M522,1014 L543,1000 L564,1014 V1111 L543,1126 L522,1111 Z"/>
<path d="M652,1014 L672,1000 L692,1014 V1107 H652 Z"/>
<path d="M696,1014 L716,1000 L736,1014 V1110 H696 Z"/>
<path d="M851,1014 L870.5,1000 L890,1014 V1107 H851 Z"/>
<path d="M895,1014 L915,1000 L935,1014 V1110 H895 Z"/>
<path d="M1044,1014 L1064.5,1000 L1085,1014 V1132 H1044 Z"/>
<path d="M1087,1014 L1107.5,1000 L1128,1014 V1111 H1087 Z"/>
<path d="M1131,1014 L1151,1000 L1171,1014 V1130 H1131 Z"/>
<path d="M1230,1014 L1250.5,1000 L1271,1014 V1132 H1230 Z"/>
<path d="M1273,1014 L1293.5,1000 L1314,1014 V1111 H1273 Z"/>
<path d="M1318,1014 L1338.5,1000 L1359,1014 V1130 H1318 Z"/>
</g>
<g class="bl">
<text transform="translate(258,1083) rotate(-90)" font-size="36">Vin</text>
<text transform="translate(303,1083) rotate(-90)" font-size="36">Vin</text>
<text transform="translate(469,1069) rotate(-90)">GND</text>
<text transform="translate(512,1103) rotate(-90)">485A</text>
<text transform="translate(556.5,1103) rotate(-90)">485B</text>
<text transform="translate(685.5,1103) rotate(-90)">IN2-</text>
<text transform="translate(729.5,1105) rotate(-90)">IN2+</text>
<text transform="translate(884,1103) rotate(-90)">IN1-</text>
<text transform="translate(928.5,1105) rotate(-90)">IN1+</text>
<text transform="translate(1078,1129) rotate(-90)">RE1NC</text>
<text transform="translate(1121,1106) rotate(-90)">RE1C</text>
<text transform="translate(1164.5,1129) rotate(-90)">RE1NO</text>
<text transform="translate(1264,1129) rotate(-90)">RE2NC</text>
<text transform="translate(1307,1106) rotate(-90)">RE2C</text>
<text transform="translate(1352,1129) rotate(-90)">RE2NO</text>
</g>
</svg>
</body></html>
